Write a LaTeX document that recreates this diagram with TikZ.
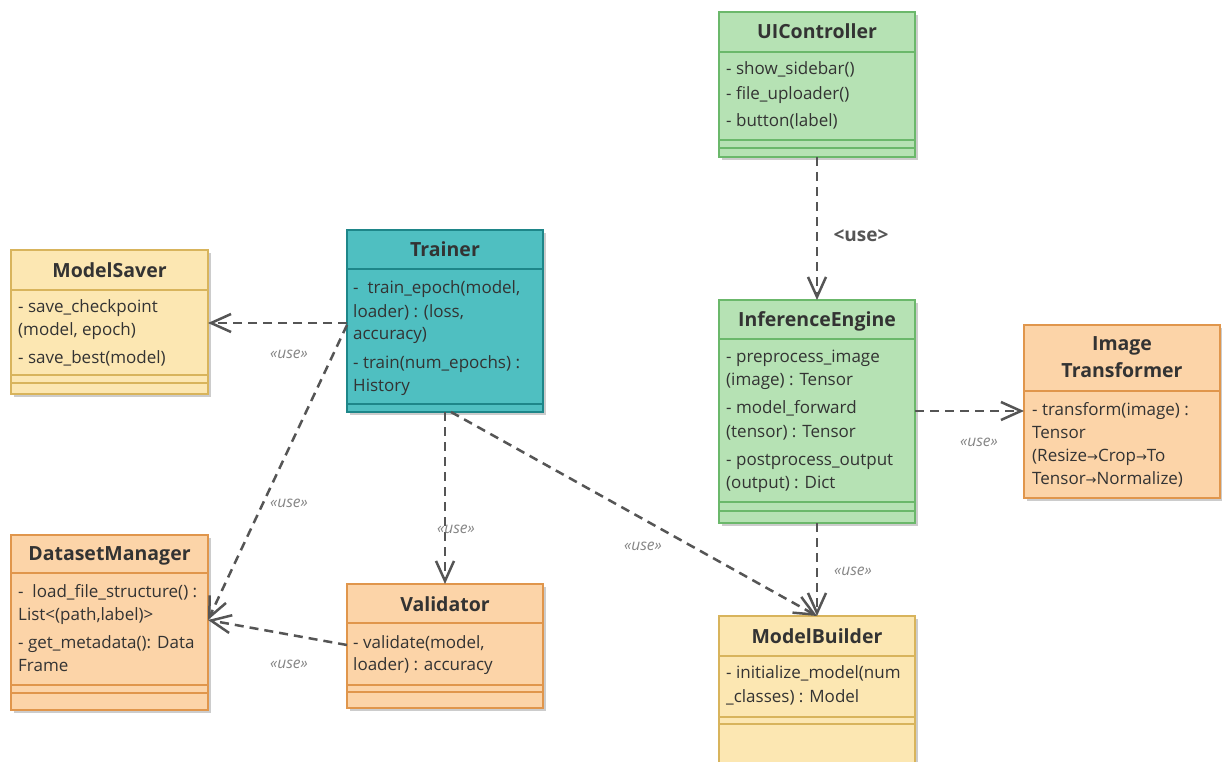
\documentclass[tikz,border=0pt]{standalone}
\usepackage{fontspec}
\setmainfont{Open Sans}
\newfontfamily\arrowfont{DejaVu Sans}
\usetikzlibrary{arrows.meta,calc,shadows}

\definecolor{ylwfill}{HTML}{FCE7B2}
\definecolor{ylwline}{HTML}{D8B45C}
\definecolor{orgfill}{HTML}{FCD4A8}
\definecolor{orgline}{HTML}{E0964C}
\definecolor{grnfill}{HTML}{B6E2B4}
\definecolor{grnline}{HTML}{6BB86B}
\definecolor{tealfill}{HTML}{4FBFC1}
\definecolor{tealline}{HTML}{1E8689}
\definecolor{txtcol}{HTML}{333333}
\definecolor{conncol}{HTML}{555555}
\definecolor{lblcol}{HTML}{858585}

\newcommand\ra{{\arrowfont\fontsize{13}{16}\selectfont →}}

\tikzset{
  classbox/.style={draw, line width=2pt, inner sep=0pt, outer sep=0pt, anchor=north west,
    drop shadow={shadow xshift=3pt, shadow yshift=-3pt, opacity=0.2, fill=black}},
  ylwbox/.style={classbox, fill=ylwfill, draw=ylwline},
  orgbox/.style={classbox, fill=orgfill, draw=orgline},
  grnbox/.style={classbox, fill=grnfill, draw=grnline},
  tealbox/.style={classbox, fill=tealfill, draw=tealline},
  sepline/.style={line width=2pt},
  ttl/.style={font=\fontsize{19.5}{22}\selectfont\bfseries, text=txtcol, anchor=base, inner sep=0pt},
  mem/.style={font=\fontsize{17}{23}\selectfont, text=txtcol, anchor=base west, inner sep=0pt},
  dep/.style={draw=conncol, line width=2.5pt, dash pattern=on 9pt off 6pt,
    -{Straight Barb[length=20pt,width=18pt,line width=2.5pt]}},
  usel/.style={font=\fontsize{15.5}{18}\selectfont\itshape, text=lblcol, inner sep=0pt},
}

\begin{document}
\begin{tikzpicture}[x=1pt,y=-1pt]
\useasboundingbox (0,0) rectangle (1222,762);
\fill[white] (0,0) rectangle (1222,762);
\begin{scope}
\clip (0,0) rectangle (1222,762);

% ---------- ModelSaver ----------
\node[ylwbox, minimum width=197pt, minimum height=144pt] (ms) at (11,250) {};
\draw[sepline, ylwline] (11,290) -- (208,290);
\draw[sepline, ylwline] (11,375) -- (208,375);
\draw[sepline, ylwline] (11,383) -- (208,383);
\node[ttl] (mst) at (109.5,277) {ModelSaver};
\node[mem] (ms1) at (18,312) {- save\_checkpoint};
\node[mem] (ms2) at (18,335) {(model, epoch)};
\node[mem] (ms3) at (18,363) {- save\_best(model)};

% ---------- Trainer ----------
\node[tealbox, minimum width=196pt, minimum height=182pt] (tr) at (347,230) {};
\draw[sepline, tealline] (347,269) -- (543,269);
\draw[sepline, tealline] (347,404) -- (543,404);
\node[ttl] (trt) at (445,256) {Trainer};
\node[mem] (tr1) at (353,293) {-\ \ train\_epoch(model,};
\node[mem] (tr2) at (353,317) {loader) : (loss,};
\node[mem] (tr3) at (353,339) {accuracy)};
\node[mem] (tr4) at (353,368) {- train(num\_epochs) :};
\node[mem] (tr5) at (353,391) {History};

% ---------- UIController ----------
\node[grnbox, minimum width=196pt, minimum height=145pt] (uic) at (719,12) {};
\draw[sepline, grnline] (719,52) -- (915,52);
\draw[sepline, grnline] (719,140) -- (915,140);
\draw[sepline, grnline] (719,148) -- (915,148);
\node[ttl] (uict) at (817,39) {UIController};
\node[mem] (uic1) at (726,75) {- show\_sidebar()};
\node[mem] (uic2) at (726,100) {- file\_uploader()};
\node[mem] (uic3) at (726,127) {- button(label)};

% ---------- InferenceEngine ----------
\node[grnbox, minimum width=196pt, minimum height=223pt] (ie) at (719,300) {};
\draw[sepline, grnline] (719,339) -- (915,339);
\draw[sepline, grnline] (719,502) -- (915,502);
\draw[sepline, grnline] (719,511) -- (915,511);
\node[ttl] (iet) at (817,326) {InferenceEngine};
\node[mem] (ie1) at (726,362) {- preprocess\_image};
\node[mem] (ie2) at (726,385) {(image) : Tensor};
\node[mem] (ie3) at (726,413) {- model\_forward};
\node[mem] (ie4) at (726,437) {(tensor) : Tensor};
\node[mem] (ie5) at (726,465) {- postprocess\_output};
\node[mem] (ie6) at (726,488) {(output) : Dict};

% ---------- ImageTransformer ----------
\node[orgbox, minimum width=196pt, minimum height=173pt] (it) at (1024,325) {};
\draw[sepline, orgline] (1024,391) -- (1220,391);
\node[ttl] (itt1) at (1122,350) {Image};
\node[ttl] (itt2) at (1122,377) {Transformer};
\node[mem] (it1) at (1032,415) {- transform(image) :};
\node[mem] (it2) at (1032,438) {Tensor};
\node[mem] (it3) at (1032,461) {(Resize\ra Crop\ra To};
\node[mem] (it4) at (1032,484) {Tensor\ra Normalize)};

% ---------- DatasetManager ----------
\node[orgbox, minimum width=197pt, minimum height=175pt] (dm) at (11,535) {};
\draw[sepline, orgline] (11,573) -- (208,573);
\draw[sepline, orgline] (11,685) -- (208,685);
\draw[sepline, orgline] (11,693) -- (208,693);
\node[ttl] (dmt) at (109.5,560) {DatasetManager};
\node[mem] (dm1) at (18,597) {-\ \ load\_file\_structure() :};
\node[mem] (dm2) at (18,620) {List<(path,label)>};
\node[mem] (dm3) at (18,648) {- get\_metadata(): Data};
\node[mem] (dm4) at (18,671) {Frame};

% ---------- Validator ----------
\node[orgbox, minimum width=196pt, minimum height=124pt] (va) at (347,584) {};
\draw[sepline, orgline] (347,623) -- (543,623);
\draw[sepline, orgline] (347,685) -- (543,685);
\draw[sepline, orgline] (347,692) -- (543,692);
\node[ttl] (vat) at (445,611) {Validator};
\node[mem] (va1) at (353,648) {- validate(model,};
\node[mem] (va2) at (353,670) {loader) : accuracy};

% ---------- ModelBuilder ----------
\node[ylwbox, minimum width=196pt, minimum height=160pt] (mb) at (719,616) {};
\draw[sepline, ylwline] (719,656) -- (915,656);
\draw[sepline, ylwline] (719,717) -- (915,717);
\draw[sepline, ylwline] (719,724) -- (915,724);
\node[ttl] (mbt) at (817,643) {ModelBuilder};
\node[mem] (mb1) at (726,678) {- initialize\_model(num};
\node[mem] (mb2) at (726,702) {\_classes) : Model};
\end{scope}

% ---------- dependencies ----------
\draw[dep] ($(tr.north west)+(0,93)$) -- ($(ms.north east)+(0,73)$);
\draw[dep] ($(tr.north west)+(0,95)$) -- ($(dm.north east)+(0,85)$);
\draw[dep] ($(va.north west)+(0,61)$) -- ($(dm.north east)+(0,85)$);
\draw[dep] ($(tr.south west)+(98,0)$) -- ($(va.north west)+(98,0)$);
\draw[dep] ($(tr.south west)+(104,0)$) -- ($(mb.north west)+(98,0)$);
\draw[dep] ($(uic.south west)+(98,0)$) -- ($(ie.north west)+(98,0)$);
\draw[dep] ($(ie.south west)+(98,0)$) -- ($(mb.north west)+(98,0)$);
\draw[dep] ($(ie.north east)+(0,111)$) -- ($(it.north west)+(0,86)$);

% ---------- stereotype labels ----------
\node[usel] (u1) at (289,354) {«use»};
\node[usel] (u2) at (289,503) {«use»};
\node[usel] (u3) at (289,664) {«use»};
\node[usel] (u4) at (456,529) {«use»};
\node[usel] (u5) at (643,546) {«use»};
\node[usel] (u6) at (853,571) {«use»};
\node[usel] (u7) at (979,442) {«use»};
\node[font=\fontsize{19}{22}\selectfont\bfseries, text=conncol, inner sep=0pt] (u8) at (861,236) {<use>};
\end{tikzpicture}
\end{document}
